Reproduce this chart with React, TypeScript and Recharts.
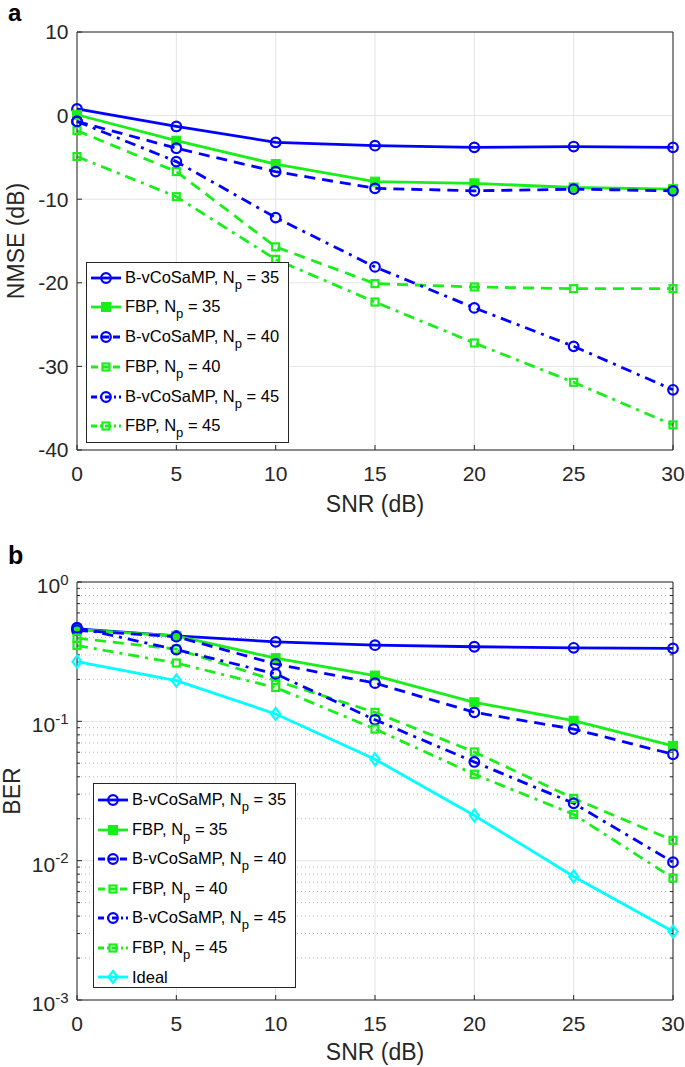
import React from 'react';
import { LineChart, Line, XAxis, YAxis, CartesianGrid, ReferenceLine, Legend } from 'recharts';

// ---------- data ----------
const snr = [0, 5, 10, 15, 20, 25, 30];
const xTicks = [0, 5, 10, 15, 20, 25, 30];

const nmseB35 = [0.8, -1.3, -3.2, -3.6, -3.8, -3.7, -3.8];
const nmseF35 = [0.1, -3.0, -5.8, -7.9, -8.1, -8.6, -8.8];
const nmseB40 = [-0.7, -3.9, -6.7, -8.7, -9.0, -8.8, -9.0];
const nmseF40 = [-1.8, -6.7, -15.7, -20.1, -20.5, -20.7, -20.7];
const nmseB45 = [-0.7, -5.5, -12.2, -18.1, -23.0, -27.6, -32.8];
const nmseF45 = [-4.9, -9.7, -17.2, -22.3, -27.2, -31.9, -37.0];
const nmseTicks = [-40, -30, -20, -10, 0, 10];

const berB35 = [0.46, 0.41, 0.372, 0.352, 0.343, 0.337, 0.334];
const berF35 = [0.455, 0.41, 0.284, 0.213, 0.137, 0.101, 0.0667];
const berB40 = [0.45, 0.405, 0.258, 0.188, 0.116, 0.088, 0.058];
const berF40 = [0.395, 0.33, 0.196, 0.116, 0.0603, 0.028, 0.014];
const berB45 = [0.47, 0.327, 0.219, 0.1026, 0.0511, 0.0258, 0.00975];
const berF45 = [0.35, 0.262, 0.175, 0.088, 0.0417, 0.0215, 0.0075];
const berIdeal = [0.268, 0.196, 0.113, 0.0534, 0.0211, 0.0077, 0.0031];
const berTicks = [0.001, 0.01, 0.1, 1];
const berTickExp = ['-3', '-2', '-1', '0'];
const berMinor = [2, 3, 4, 5, 6, 7, 8, 9].flatMap((m) => [m * 0.001, m * 0.01, m * 0.1]);

// ---------- styles ----------
const BLUE = '#0000ff';
const GREEN = '#1aee1a';
const CYAN = '#00ffff';
const AX = '#262626';
const FONT = '"Liberation Sans", Arial, Helvetica, sans-serif';
const DASH = '11 7';
const DASHDOT = '11 6 3 6';
const LW = 2.8;

type Marker = 'circle' | 'square' | 'squareOpen' | 'diamond';
type Series = { key: string; algo: string; np: string; color: string; dash?: string; legDash?: string; marker: Marker };

const topSeries: Series[] = [
  { key: 'b35', algo: 'B-vCoSaMP', np: '35', color: BLUE, marker: 'circle' },
  { key: 'f35', algo: 'FBP', np: '35', color: GREEN, marker: 'square' },
  { key: 'b40', algo: 'B-vCoSaMP', np: '40', color: BLUE, dash: DASH, legDash: '7 4', marker: 'circle' },
  { key: 'f40', algo: 'FBP', np: '40', color: GREEN, dash: DASH, legDash: '7 4', marker: 'squareOpen' },
  { key: 'b45', algo: 'B-vCoSaMP', np: '45', color: BLUE, dash: DASHDOT, legDash: '6 3 2 3', marker: 'circle' },
  { key: 'f45', algo: 'FBP', np: '45', color: GREEN, dash: DASHDOT, legDash: '6 3 2 3', marker: 'squareOpen' },
];
const bottomSeries: Series[] = [
  ...topSeries,
  { key: 'ideal', algo: 'Ideal', np: '', color: CYAN, marker: 'diamond' },
];

const nmseData = snr.map((s, i) => ({
  snr: s, b35: nmseB35[i], f35: nmseF35[i], b40: nmseB40[i], f40: nmseF40[i], b45: nmseB45[i], f45: nmseF45[i],
}));
const berData = snr.map((s, i) => ({
  snr: s, b35: berB35[i], f35: berF35[i], b40: berB40[i], f40: berF40[i], b45: berB45[i], f45: berF45[i], ideal: berIdeal[i],
}));

function MarkerShape({ cx, cy, marker, color }: { cx: number; cy: number; marker: Marker; color: string }) {
  if (marker === 'circle') return <circle cx={cx} cy={cy} r={4.8} fill="none" stroke={color} strokeWidth={2.2} />;
  if (marker === 'square') return <rect x={cx - 4.5} y={cy - 4.5} width={9} height={9} fill={color} stroke={color} strokeWidth={1} />;
  if (marker === 'squareOpen') return <rect x={cx - 3.5} y={cy - 3.5} width={7} height={7} fill="none" stroke={color} strokeWidth={2.2} />;
  return <path d={`M${cx},${cy - 6} L${cx + 4.5},${cy} L${cx},${cy + 6} L${cx - 4.5},${cy} Z`} fill="none" stroke={color} strokeWidth={2.2} />;
}

const makeDot = (s: Series) => (p: any) => {
  if (p.cx == null || p.cy == null || isNaN(p.cx) || isNaN(p.cy)) return <g key={`${s.key}-e-${p.index}`} />;
  return <g key={`${s.key}-${p.index}`}><MarkerShape cx={p.cx} cy={p.cy} marker={s.marker} color={s.color} /></g>;
};

function LegendBox({ series, rowH, firstRow, width, height }: { series: Series[]; rowH: number; firstRow: number; width: number; height: number }) {
  return (
    <div style={{ position: 'relative', width, height, border: `1px solid ${AX}`, background: '#fff', boxSizing: 'border-box', fontFamily: FONT, fontSize: 16.5, color: '#000' }}>
      {series.map((s, i) => (
        <div key={s.key} style={{ position: 'absolute', left: 0, top: firstRow + i * rowH - 10, height: 20, display: 'flex', alignItems: 'center', whiteSpace: 'nowrap' }}>
          <svg width={38} height={20} style={{ display: 'block' }}>
            <line x1={4} y1={10} x2={34} y2={10} stroke={s.color} strokeWidth={LW} strokeDasharray={s.legDash} />
            <MarkerShape cx={19} cy={10} marker={s.marker} color={s.color} />
          </svg>
          <span style={{ lineHeight: '20px' }}>
            {s.np ? (
              <>
                {s.algo}, N<span style={{ fontSize: 13, position: 'relative', top: 6 }}>p</span> = {s.np}
              </>
            ) : (
              s.algo
            )}
          </span>
        </div>
      ))}
    </div>
  );
}

function LogTick(props: any) {
  const { x, y, payload } = props;
  const idx = berTicks.findIndex((t) => Math.abs(t - payload.value) < 1e-9);
  return (
    <text x={x} y={y} textAnchor="end" fontFamily={FONT} fontSize={21} fill={AX}>
      <tspan dy={11}>10</tspan>
      <tspan dy={-8.5} fontSize={15}>{berTickExp[idx]}</tspan>
    </text>
  );
}

const tickStyle = { fontSize: 21, fill: AX, fontFamily: FONT };

// plot box: left 77, right 673
const PL = 77;
const PR = 12;

export default function App() {
  const W = 685;
  return (
    <div style={{ position: 'absolute', left: 0, top: 0, width: W, height: 1067, background: '#fff', fontFamily: FONT }}>
      {/* ---------- panel a ---------- */}
      <div style={{ position: 'absolute', left: 0, top: 0 }}>
        <LineChart width={W} height={530} data={nmseData} margin={{ top: 31, right: PR - 1, bottom: 50, left: PL - 60 }}>
          <CartesianGrid stroke="#e4e4e4" strokeWidth={1} />
          <XAxis dataKey="snr" type="number" domain={[0, 30]} ticks={xTicks} interval={0} height={30}
            tickSize={-5} tickMargin={21} tick={tickStyle} stroke={AX} />
          <XAxis xAxisId="top" orientation="top" type="number" domain={[0, 30]} ticks={xTicks} interval={0} height={1}
            tickSize={-5} tick={false} stroke={AX} />
          <YAxis type="number" domain={[-40, 10]} ticks={nmseTicks} interval={0} width={60}
            tickSize={-5} tickMargin={13.5} tick={tickStyle} stroke={AX} />
          <YAxis yAxisId="right" orientation="right" type="number" domain={[-40, 10]} ticks={nmseTicks} interval={0} width={1}
            tickSize={-5} tick={false} stroke={AX} />
          {topSeries.map((s) => (
            <Line key={s.key} dataKey={s.key} stroke={s.color} strokeWidth={LW} strokeDasharray={s.dash}
              dot={makeDot(s)} activeDot={false} isAnimationActive={false} />
          ))}
          <Legend layout="vertical" verticalAlign="middle" align="center"
            wrapperStyle={{ position: 'absolute', left: 86, top: 262, width: 203, height: 181 }}
            content={() => <LegendBox series={topSeries} rowH={29.7} firstRow={14.7} width={203} height={181} />} />
        </LineChart>
      </div>

      {/* ---------- panel b ---------- */}
      <div style={{ position: 'absolute', left: 0, top: 530 }}>
        <LineChart width={W} height={537} data={berData} margin={{ top: 51, right: PR - 1, bottom: 37, left: PL - 60 }}>
          <CartesianGrid stroke="#e4e4e4" strokeWidth={1} />
          {berMinor.map((v) => (
            <ReferenceLine key={`g${v}`} y={v} stroke="#b8b8b8" strokeWidth={1} strokeDasharray="1 3" />
          ))}
          {berMinor.map((v) => (
            <ReferenceLine key={`l${v}`} segment={[{ x: 0, y: v }, { x: 0.15, y: v }]} stroke={AX} strokeWidth={1} />
          ))}
          {berMinor.map((v) => (
            <ReferenceLine key={`r${v}`} segment={[{ x: 29.85, y: v }, { x: 30, y: v }]} stroke={AX} strokeWidth={1} />
          ))}
          <XAxis dataKey="snr" type="number" domain={[0, 30]} ticks={xTicks} interval={0} height={30}
            tickSize={-5} tickMargin={21} tick={tickStyle} stroke={AX} />
          <XAxis xAxisId="top" orientation="top" type="number" domain={[0, 30]} ticks={xTicks} interval={0} height={1}
            tickSize={-5} tick={false} stroke={AX} />
          <YAxis type="number" scale="log" domain={[0.001, 1]} allowDataOverflow ticks={berTicks} interval={0} width={60}
            tickSize={-5} tickMargin={13.5} tick={<LogTick />} stroke={AX} />
          <YAxis yAxisId="right" orientation="right" type="number" scale="log" domain={[0.001, 1]} allowDataOverflow ticks={berTicks} interval={0} width={1}
            tickSize={-5} tick={false} stroke={AX} />
          {bottomSeries.map((s) => (
            <Line key={s.key} dataKey={s.key} stroke={s.color} strokeWidth={LW} strokeDasharray={s.dash}
              dot={makeDot(s)} activeDot={false} isAnimationActive={false} />
          ))}
          <Legend layout="vertical" verticalAlign="middle" align="center"
            wrapperStyle={{ position: 'absolute', left: 93, top: 253, width: 203, height: 205 }}
            content={() => <LegendBox series={bottomSeries} rowH={29.5} firstRow={16} width={203} height={205} />} />
        </LineChart>
      </div>

      {/* ---------- titles & axis labels ---------- */}
      <svg width={W} height={1067} style={{ position: 'absolute', left: 0, top: 0, pointerEvents: 'none' }}>
        <text x={8} y={21} fontFamily={FONT} fontSize={24} fontWeight="bold" fill="#000">a</text>
        <text x={8} y={564} fontFamily={FONT} fontSize={25} fontWeight="bold" fill="#000">b</text>
        <text x={375} y={512} textAnchor="middle" fontFamily={FONT} fontSize={23} fill={AX}>SNR (dB)</text>
        <text x={375} y={1060} textAnchor="middle" fontFamily={FONT} fontSize={23} fill={AX}>SNR (dB)</text>
        <text x={16} y={241} textAnchor="middle" dominantBaseline="central" fontFamily={FONT} fontSize={23} fill={AX}
          transform="rotate(-90 16 241)">NMSE (dB)</text>
        <text x={12} y={791} textAnchor="middle" dominantBaseline="central" fontFamily={FONT} fontSize={23} fill={AX}
          transform="rotate(-90 12 791)">BER</text>
      </svg>
    </div>
  );
}
